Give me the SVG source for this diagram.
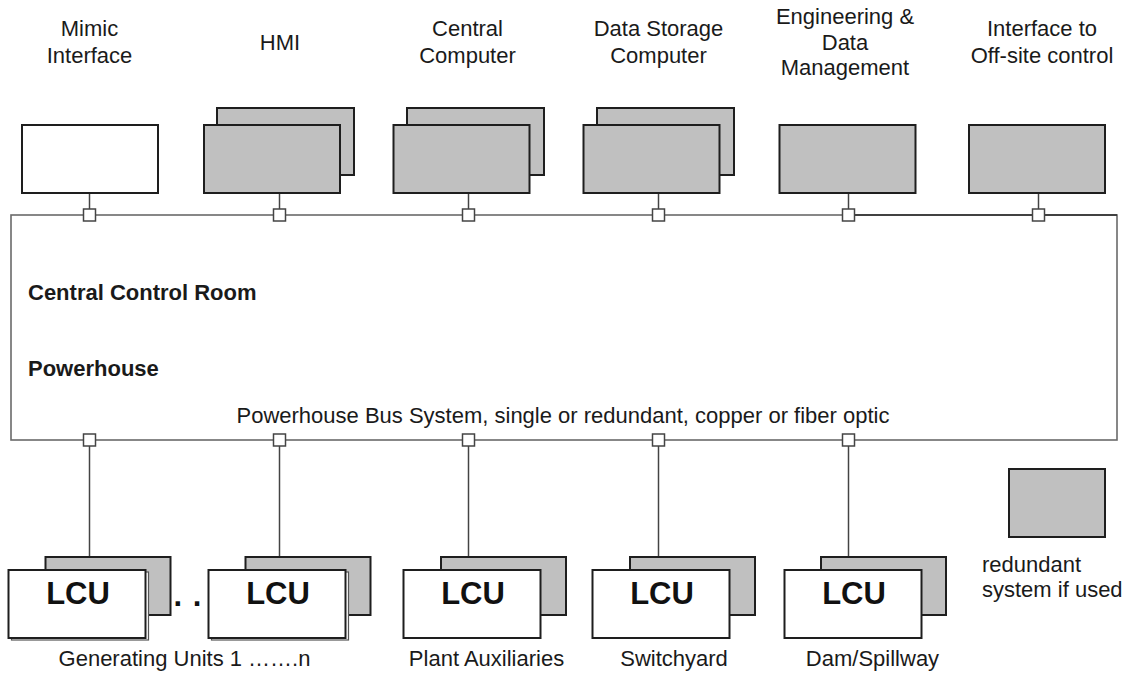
<svg xmlns="http://www.w3.org/2000/svg" width="1124" height="674" viewBox="0 0 1124 674">
  <style>
    text { font-family: "Liberation Sans", Arial, sans-serif; font-size: 22px; fill: #1a1a1a; }
    .c { text-anchor: middle; }
    .b { font-weight: bold; }
    .lcu { font-weight: bold; font-size: 31px; text-anchor: middle; fill: #111; }
    .box { stroke: #1e1e1e; stroke-width: 2; }
    .grey { fill: #c0c0c0; }
    .white { fill: #ffffff; }
    .bus { fill: none; stroke: #6a6a6a; stroke-width: 1.6; }
    .stub { stroke: #444; stroke-width: 1.5; }
    .tap { fill: #ffffff; stroke: #444; stroke-width: 1.5; }
  </style>
  <rect width="1124" height="674" fill="#ffffff"/>

  <!-- bus ring and stubs -->
  <g id="connectors">
    <rect class="bus" x="11" y="215" width="1106" height="225"/>
    <line x1="848.5" y1="215" x2="1117" y2="215" stroke="#2a2a2a" stroke-width="1.6"/>
    <!-- upper stubs -->
    <line class="stub" x1="89.5" y1="193" x2="89.5" y2="209"/>
    <line class="stub" x1="279.5" y1="193" x2="279.5" y2="209"/>
    <line class="stub" x1="468.5" y1="193" x2="468.5" y2="209"/>
    <line class="stub" x1="658.5" y1="193" x2="658.5" y2="209"/>
    <line class="stub" x1="848.5" y1="193" x2="848.5" y2="209"/>
    <line class="stub" x1="1038.5" y1="193" x2="1038.5" y2="209"/>
    <!-- lower stubs -->
    <line class="stub" x1="89.5" y1="446" x2="89.5" y2="557"/>
    <line class="stub" x1="279.5" y1="446" x2="279.5" y2="557"/>
    <line class="stub" x1="468.5" y1="446" x2="468.5" y2="557"/>
    <line class="stub" x1="658.5" y1="446" x2="658.5" y2="557"/>
    <line class="stub" x1="848.5" y1="446" x2="848.5" y2="557"/>
    <!-- bus taps -->
    <rect class="tap" x="83.5" y="209" width="12" height="12"/>
    <rect class="tap" x="273.5" y="209" width="12" height="12"/>
    <rect class="tap" x="462.5" y="209" width="12" height="12"/>
    <rect class="tap" x="652.5" y="209" width="12" height="12"/>
    <rect class="tap" x="842.5" y="209" width="12" height="12"/>
    <rect class="tap" x="1032.5" y="209" width="12" height="12"/>
    <rect class="tap" x="83.5" y="434" width="12" height="12"/>
    <rect class="tap" x="273.5" y="434" width="12" height="12"/>
    <rect class="tap" x="462.5" y="434" width="12" height="12"/>
    <rect class="tap" x="652.5" y="434" width="12" height="12"/>
    <rect class="tap" x="842.5" y="434" width="12" height="12"/>
  </g>

  <!-- area labels -->
  <g id="areas">
    <text class="b" x="28" y="300">Central Control Room</text>
    <text class="b" x="28" y="376">Powerhouse</text>
    <text class="c" x="563" y="423">Powerhouse Bus System, single or redundant, copper or fiber optic</text>
  </g>

  <!-- control room equipment -->
  <g id="mimic">
    <text class="c" x="89.5" y="35.5">Mimic</text>
    <text class="c" x="89.5" y="62.5">Interface</text>
    <rect class="box white" x="22" y="125" width="136" height="68"/>
  </g>
  <g id="hmi">
    <text class="c" x="280" y="50">HMI</text>
    <rect class="box grey" x="217" y="108" width="137" height="67"/>
    <rect class="box grey" x="204" y="125" width="136" height="68"/>
  </g>
  <g id="central-computer">
    <text class="c" x="467.5" y="35.5">Central</text>
    <text class="c" x="467.5" y="62.5">Computer</text>
    <rect class="box grey" x="407" y="108" width="137" height="67"/>
    <rect class="box grey" x="393.5" y="125" width="136" height="68"/>
  </g>
  <g id="data-storage">
    <text class="c" x="658.5" y="35.5">Data Storage</text>
    <text class="c" x="658.5" y="62.5">Computer</text>
    <rect class="box grey" x="597" y="108" width="137" height="67"/>
    <rect class="box grey" x="583.5" y="125" width="136" height="68"/>
  </g>
  <g id="engineering">
    <text class="c" x="845" y="24">Engineering &amp;</text>
    <text class="c" x="845" y="49.5">Data</text>
    <text class="c" x="845" y="74.5">Management</text>
    <rect class="box grey" x="779.5" y="125" width="136" height="68"/>
  </g>
  <g id="offsite-interface">
    <text class="c" x="1042" y="36">Interface to</text>
    <text class="c" x="1042" y="62.5">Off-site control</text>
    <rect class="box grey" x="969" y="125" width="136" height="68"/>
  </g>

  <!-- local control units -->
  <g id="lcu-unit-1">
    <rect class="box grey" x="45.5" y="557" width="125" height="58"/>
    <rect x="11.5" y="572" width="137" height="68" fill="#ffffff" stroke="#555" stroke-width="1.2"/>
    <rect class="box white" x="8.5" y="570" width="137" height="68"/>
    <text class="lcu" x="78" y="604">LCU</text>
  </g>
  <g id="unit-dots">
    <text class="lcu" x="188" y="606" letter-spacing="1">. .</text>
  </g>
  <g id="lcu-unit-n">
    <rect class="box grey" x="245.5" y="557" width="125" height="58"/>
    <rect x="211.5" y="572" width="137" height="68" fill="#ffffff" stroke="#555" stroke-width="1.2"/>
    <rect class="box white" x="208.5" y="570" width="137" height="68"/>
    <text class="lcu" x="278" y="604">LCU</text>
    <text class="c" x="184.5" y="666">Generating Units 1 …….n</text>
  </g>
  <g id="lcu-auxiliaries">
    <rect class="box grey" x="441" y="557" width="125" height="58"/>
    <rect class="box white" x="403.5" y="570" width="137" height="68"/>
    <text class="lcu" x="473" y="604">LCU</text>
    <text class="c" x="486.5" y="666">Plant Auxiliaries</text>
  </g>
  <g id="lcu-switchyard">
    <rect class="box grey" x="630" y="557" width="125" height="58"/>
    <rect class="box white" x="592.5" y="570" width="137" height="68"/>
    <text class="lcu" x="662" y="604">LCU</text>
    <text class="c" x="674" y="666">Switchyard</text>
  </g>
  <g id="lcu-dam">
    <rect class="box grey" x="821" y="557" width="125" height="58"/>
    <rect class="box white" x="784.5" y="570" width="137" height="68"/>
    <text class="lcu" x="854" y="604">LCU</text>
    <text class="c" x="872.5" y="666">Dam/Spillway</text>
  </g>

  <!-- legend -->
  <g id="legend">
    <rect class="box grey" x="1009" y="469" width="96" height="68"/>
    <text x="982" y="572">redundant</text>
    <text x="982" y="597">system if used</text>
  </g>
</svg>
